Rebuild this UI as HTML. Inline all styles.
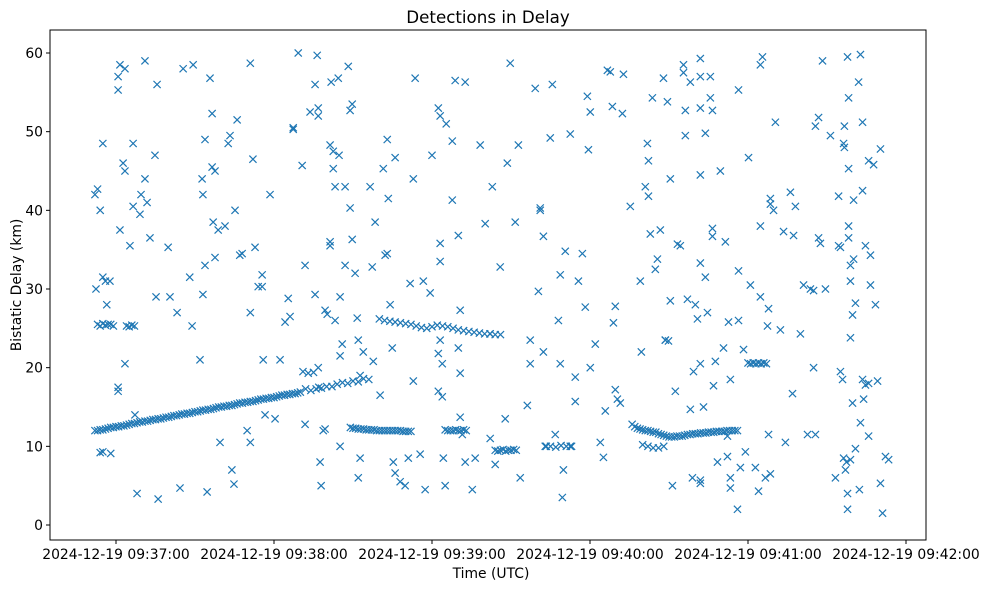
<!DOCTYPE html>
<html><head><meta charset="utf-8"><style>
body{margin:0;background:#fff;}
svg{display:block;font-family:"DejaVu Sans","Liberation Sans",sans-serif;}
</style></head><body>
<svg id="chart" width="987" height="590">
<rect width="987" height="590" fill="#fff"/>
<text x="488" y="23" text-anchor="middle" font-size="16.7">Detections in Delay</text>
<text x="491" y="578" text-anchor="middle" font-size="13.9">Time (UTC)</text>
<text transform="translate(21,285) rotate(-90)" text-anchor="middle" font-size="13.9">Bistatic Delay (km)</text>
<g id="marks"></g>
<g id="axes"></g>
<rect x="50" y="30" width="876" height="510" fill="none" stroke="#000" stroke-width="1"/>
</svg>
<script>
const xTickSecs=[0,60,120,180,240,300];
const xTickLabels=["2024-12-19 09:37:00","2024-12-19 09:38:00","2024-12-19 09:39:00","2024-12-19 09:40:00","2024-12-19 09:41:00","2024-12-19 09:42:00"];
const yTicks=[0,10,20,30,40,50,60];
// rising track
const trackAT=[-8,-7,-6,-5,-4,-3,-2,-1,0,1,2,3,4,6,8,10,12,14,16,18,20,22,24,26,28,30,32,34,36,38,40,42,44,46,48,50,52,54,56,58,60,62,64,66,68,70,72,74,76,78,80,82,84,86,88,90,92,94,96,5,7,9,11,13,15,17,19,21,23,25,27,29,31,33,35,37,39,41,43,45,47,49,51,53,55,57,59,61,63,65,67,69,71,73,75,77];
const trackAV=[12.0,12.0,12.1,12.1,12.2,12.3,12.4,12.4,12.5,12.5,12.6,12.6,12.7,12.9,13.0,13.1,13.2,13.4,13.5,13.6,13.7,13.9,14.0,14.1,14.2,14.4,14.5,14.6,14.7,14.9,15.0,15.1,15.2,15.4,15.5,15.6,15.7,15.9,16.0,16.1,16.2,16.4,16.5,16.6,16.7,16.9,17.3,17.1,17.3,17.4,17.6,17.6,17.9,18.1,18.0,18.3,18.2,18.6,18.5,12.8,12.9,13.1,13.2,13.3,13.4,13.5,13.7,13.8,13.9,14.1,14.2,14.3,14.4,14.6,14.7,14.8,15.0,15.1,15.2,15.3,15.5,15.6,15.7,15.8,16.0,16.1,16.2,16.3,16.5,16.6,16.7,16.8,19.5,19.3,19.4,17.5];
// other tracks
const trackBT=[-7,-6,-5,-4,-3,-2,-1,4,5,6,7,-6,-5,-2,89,90,91,92,93,94,95,96,97,98,99,100,101,102,103,104,105,106,107,108,109,110,111,112,100,102,104,106,108,110,112,114,116,118,120,122,124,126,128,130,132,134,136,138,140,142,144,146,125,126,127,128,129,130,131,132,133,144,145,146,147,148,149,150,151,152,163,165,167,169,171,173,196,197,198,199,200,201,202,203,204,205,206,207,208,209,210,211,212,213,214,215,216,217,218,219,220,221,222,223,224,225,226,227,228,229,230,231,232,233,234,235,236,200,202,204,206,208,240,241,242,243,244,245,246,247,208.6,209.8];
const trackBV=[25.5,25.3,25.6,25.4,25.5,25.5,25.3,25.3,25.2,25.4,25.3,9.2,9.3,9.1,12.4,12.3,12.3,12.2,12.2,12.2,12.1,12.1,12.1,12.1,12.0,12.0,12.0,12.0,12.0,12.0,12.0,12.0,12.0,12.0,11.9,11.9,11.9,11.9,26.2,26.0,25.9,25.8,25.7,25.6,25.5,25.3,25.1,25.0,25.2,25.4,25.3,25.2,25.0,24.8,24.7,24.6,24.5,24.4,24.3,24.3,24.2,24.2,12.1,12.0,12.0,12.0,12.1,12.0,12.0,12.1,12.0,9.5,9.4,9.5,9.6,9.4,9.5,9.5,9.6,9.5,10.0,10.0,9.9,10.1,10.0,10.0,12.8,12.5,12.3,12.2,12.1,12.0,12.0,11.9,11.8,11.8,11.6,11.5,11.4,11.3,11.2,11.2,11.2,11.3,11.3,11.3,11.4,11.5,11.5,11.6,11.6,11.6,11.7,11.7,11.7,11.8,11.8,11.8,11.9,11.9,11.9,11.9,12.0,12.0,12.0,12.0,12.0,10.2,10.0,9.8,9.8,10.0,20.6,20.5,20.6,20.5,20.6,20.5,20.6,20.5,23.5,23.4];
// scattered detections
const scatT=[-8,-7,-6,-5,-5,-4,-3.5,-2.3,-7.6,0.8,1.5,0.8,0.8,0.8,1.5,2.7,3.4,3.4,3.4,5.3,6.5,6.5,7.2,8,9.1,9.5,11,11,11.8,12.9,14.8,15.2,15.6,16,19.8,20.5,23.2,24.3,25.5,28,28.9,29.3,31.9,32.7,33,33.8,33,33.8,34.6,35.7,36.5,36.5,36.9,37.6,37.6,38.8,39.5,41.4,42.6,43.3,44,44.8,45.2,46,47,47.9,49.8,51,51,51,52,52.8,54,55.5,55.5,55.9,56.6,58.5,60.4,62.3,64.2,65.4,66.1,67.3,67.3,69.2,70.7,71.8,71.8,73.7,75.6,76.4,76.8,76.8,75.6,76.8,77.5,77.9,78.7,79.4,79.4,80.2,81.3,81.3,81.3,81.7,82.5,82.5,83.2,83.2,84.4,84.7,85.1,85.1,85.1,85.9,87,87,88.2,88.9,88.9,89.7,89.7,90.8,91.6,92,92,92.7,92.7,93.9,96.5,97.3,97.7,98.4,100.3,101.5,102.2,103,103,103.4,104.1,104.9,106,105.3,106,107.9,109.8,111,111.7,112.9,113.6,112.9,115.5,116.7,117.4,119.3,120,122.4,123.1,123.1,123.1,122.4,122.4,123.9,123.9,123.1,124.3,125,125.4,127.7,127.7,128.8,130,130.7,130,130.7,130.7,131.5,132.6,132.6,135.3,136.4,138.3,140.2,142.1,142.1,142.9,144,145.9,147.8,148.6,149.7,151.6,152.8,153.5,156.2,157.3,157.3,159.2,160.4,161.1,161.1,162.3,162.3,163.4,164.9,165.7,166.8,168,168.7,168.7,169.5,169.9,170.6,172.5,172.5,174.4,174.4,175.6,177.1,179,179.4,180.1,178.2,180.1,182,183.9,185.1,185.8,186.6,187.7,188.5,188.9,189.6,189.6,190.4,191.5,192.7,192.3,195.3,199.1,199.5,201,201.8,202.2,202.2,202.9,203.7,204.8,205.6,206.7,207.9,208.6,209.4,210.5,211.3,210.5,212.4,213.2,214.3,215.5,215.5,216.2,216.2,217,218.1,218.1,218.9,219.3,220,220.8,221.9,221.9,221.9,221.9,221.9,221.9,221.9,221.9,223.1,223.8,223.8,224.6,225.7,225.7,226.5,226.5,226.5,226.9,227.6,228.4,229.5,230.7,231.4,232.2,232.2,232.6,233.3,233.3,233.3,236,236.4,236.4,236.4,237.1,238.3,239,240.2,240.9,242.8,244,244.7,244.7,244.7,245.5,246.6,247.4,247.8,247.8,248.5,248.5,248.5,249.7,250.4,252.3,253.5,254.2,256.1,256.9,257.3,258,259.9,261.1,262.6,263.7,264.9,264.9,265.6,265.6,266.8,266.8,267.5,268.3,269.4,271.3,273.2,274.4,274.4,275.1,275.1,275.9,276.3,276.6,276.6,277,277.4,277.8,277.8,277.8,278.2,278.2,278.2,278.2,278.9,278.9,278.9,278.9,279.7,279.7,280.1,280.1,280.8,280.8,282,282.3,282.7,282.7,283.5,283.5,283.5,283.9,284.6,284.6,285.8,285.8,285.8,286.5,287.7,288.4,289.2,290.3,290.3,291.1,292.2,293.4,286.5,276.3];
const scatV=[42,42.7,40,48.5,31.5,31,28,31,30,57,58.5,55.3,17,17.5,37.5,46,58,45,20.5,35.5,48.5,40.5,14,4,39.5,42,59,44,41,36.5,47,29,56,3.3,35.3,29,27,4.7,58,31.5,25.3,58.5,21,44,42,33,29.3,49,4.2,56.8,52.3,45.5,38.5,45,34,37.5,10.5,38,48.5,49.5,7,5.2,40,51.5,34.3,34.5,12,10.5,27,58.7,46.5,35.3,30.3,31.8,30.3,21,14,42,13.5,21,25.8,28.8,26.5,50.5,50.3,60,45.7,33,12.8,52.5,56,59.7,53,52,29.3,20,8,5,12,12.2,27.3,26.8,36,35.5,48.3,56.3,47.5,45.3,43,26,56.8,47,21.5,29,10,23,43,33,58.3,40.3,52.7,53.5,36.3,32,26.3,23.5,6,8.5,19,22,43,32.8,20.8,38.5,16.5,45.3,34.3,34.5,49,41.5,28,22.5,46.7,8,6.6,5.5,5,8.5,30.7,18.3,56.8,44,9,31,4.5,29.5,47,53,52,35.8,33.5,21.8,17,20.5,16.3,23.5,8.5,5,51,41.3,48.8,56.5,36.8,27.3,22.5,19.3,13.7,11.5,8,56.3,4.5,8.5,48.3,38.3,11,24.3,43,7.7,32.8,13.5,46,58.7,38.5,48.3,6,15.2,20.5,23.5,55.5,29.7,40.3,40,36.7,22,10,49.2,56,11.5,26,31.8,20.5,3.5,7,34.8,49.7,10,18.8,15.7,31,34.5,54.5,47.7,52.5,27.7,20,23,10.5,8.6,14.5,57.8,57.6,53.2,25.7,27.8,17.2,16,15.5,57.3,52.3,40.5,31,22,43,48.5,46.3,41.8,37,54.3,32.5,33.8,37.5,56.8,23.5,53.8,44,5,28.5,17,35.7,35.5,57.5,58.5,49.5,52.7,28.7,14.7,56.3,6,19.5,28,26.2,53,59.3,57,44.5,33.3,20.5,5.7,5.3,15,31.5,49.8,27,57,54.3,36.7,52.7,37.7,17.7,20.8,8,45,22.5,36,8.7,11.3,25.8,18.5,4.7,6,2,32.3,26,55.3,7.3,22.3,9.3,46.7,30.5,7.3,4.3,38,29,58.5,59.5,6,25.3,27.5,11.5,6.5,41.5,40.8,40,51.2,24.8,37.3,10.5,42.3,16.7,36.8,40.5,24.3,30.5,11.5,30,29.8,20,11.5,50.7,51.8,36.5,35.8,59,30,49.5,6,35.5,41.8,35.3,19.5,18.5,48.5,50.7,48,7,8,59.5,2,4,36.5,54.3,45.3,38,23.8,8.3,33,31,15.5,26.7,41.3,33.8,28.2,9.7,56.3,4.5,13,59.8,42.5,51.2,18.5,16,17.8,35.5,46.3,11.3,18,30.5,45.8,28,18.3,5.3,47.8,1.5,8.7,8.3,34.3,8.5,43];

const X0=116, PXS=158/60, Y0=525, PYK=472/60;
function xScale(t){return X0+t*PXS;}
function yScale(v){return Y0-v*PYK;}
const NS="http://www.w3.org/2000/svg";
const marks=document.getElementById('marks');
const axes=document.getElementById('axes');
function drawSeries(ts,vs){
  for(let i=0;i<ts.length&&i<vs.length;i++){
    const x=xScale(ts[i]), y=yScale(vs[i]), r=3.6;
    const p=document.createElementNS(NS,'path');
    p.setAttribute('d',`M${x-r},${y-r}L${x+r},${y+r}M${x-r},${y+r}L${x+r},${y-r}`);
    p.setAttribute('stroke','#1f77b4');
    p.setAttribute('stroke-width','1.2');
    p.setAttribute('fill','none');
    
    
    marks.appendChild(p);
  }
}
drawSeries(trackAT,trackAV);
drawSeries(trackBT,trackBV);
drawSeries(scatT,scatV);
yTicks.forEach(v=>{
  const y=yScale(v);
  const l=document.createElementNS(NS,'line');
  l.setAttribute('x1',46);l.setAttribute('x2',50);l.setAttribute('y1',y);l.setAttribute('y2',y);
  l.setAttribute('stroke','#000');
  
  
  axes.appendChild(l);
  const t=document.createElementNS(NS,'text');
  t.setAttribute('x',43);t.setAttribute('y',y+5);t.setAttribute('text-anchor','end');t.setAttribute('font-size','13.9');
  t.textContent=v;
  
  
  axes.appendChild(t);
});
xTickSecs.forEach((s,i)=>{
  const x=xScale(s);
  const l=document.createElementNS(NS,'line');
  l.setAttribute('x1',x);l.setAttribute('x2',x);l.setAttribute('y1',540);l.setAttribute('y2',544);
  l.setAttribute('stroke','#000');
  
  
  axes.appendChild(l);
  const t=document.createElementNS(NS,'text');
  t.setAttribute('x',x);t.setAttribute('y',559);t.setAttribute('text-anchor','middle');t.setAttribute('font-size','13.9');
  t.textContent=xTickLabels[i];
  
  
  axes.appendChild(t);
});
</script>
</body></html>
